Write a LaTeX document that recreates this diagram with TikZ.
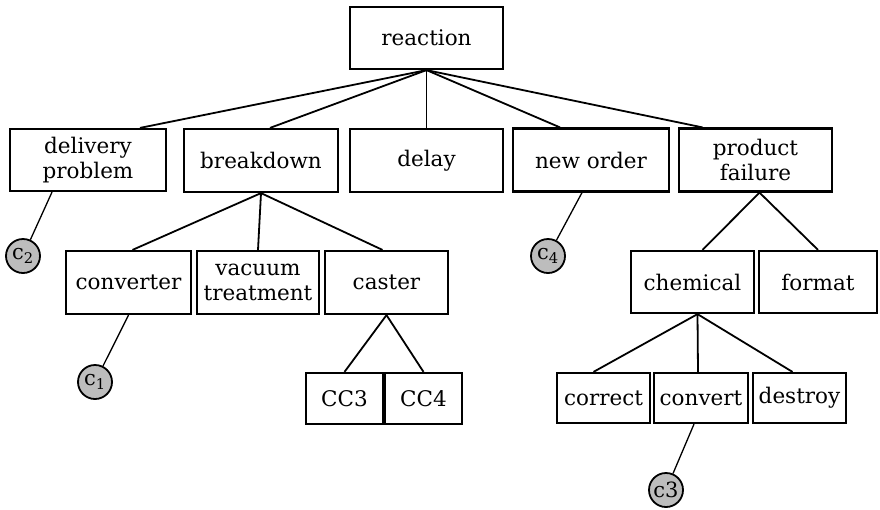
\documentclass[tikz,border=0pt]{standalone}
\usepackage{fontspec}
\setmainfont{DejaVu Serif}
\definecolor{cfill}{HTML}{BDBDBD}
\begin{document}
\begin{tikzpicture}[x=1pt,y=-1pt,
  box/.style={draw,line width=2.2pt,inner sep=0pt,align=center,font=\fontsize{21.5}{25}\selectfont},
  cnode/.style={draw,circle,line width=1.8pt,fill=cfill,minimum size=34pt,inner sep=0pt,font=\fontsize{21}{21}\selectfont},
  link/.style={line width=1.8pt},
  thin link/.style={line width=1.3pt}]
\useasboundingbox (0,0) rectangle (880,509);
\node (reaction) [box,minimum width=153pt,minimum height=62pt] at (426.5,38) {reaction};
\node (delivery) [box,minimum width=156pt,minimum height=62pt] at (88,160) {delivery\\problem};
\node (breakdown) [box,minimum width=154pt,minimum height=63pt] at (261,160.5) {breakdown};
\node (delay) [box,minimum width=153pt,minimum height=63pt] at (426.5,160.5) {delay};
\node (neworder) [box,minimum width=156pt,minimum height=63pt] at (591,160) {new order};
\node (failure) [box,minimum width=153pt,minimum height=63pt] at (755.5,160) {product\\failure};
\node (converter) [box,minimum width=125pt,minimum height=63pt] at (128.5,282.5) {converter};
\node (vacuum) [box,minimum width=122pt,minimum height=63pt] at (258,282.5) {vacuum\\treatment};
\node (caster) [box,minimum width=123pt,minimum height=63pt] at (386.5,282.5) {caster};
\node (chemical) [box,minimum width=123pt,minimum height=62pt] at (692.5,282) {chemical};
\node (format) [box,minimum width=118pt,minimum height=62pt] at (818,282) {format};
\node (cc3) [box,minimum width=77pt,minimum height=51pt] at (344.5,398.5) {CC3};
\node (cc4) [box,minimum width=77pt,minimum height=51pt] at (423.5,398.5) {CC4};
\node (correct) [box,minimum width=93pt,minimum height=50pt] at (603.5,398) {correct};
\node (convert) [box,minimum width=94pt,minimum height=50pt] at (701,398) {convert};
\node (destroy) [box,minimum width=93pt,minimum height=50pt] at (799.5,398) {destroy};
\node (c2) [cnode] at (23,256) {c\textsubscript{2}};
\node (c1) [cnode] at (95,382) {c\textsubscript{1}};
\node (c4) [cnode] at (548,256) {c\textsubscript{4}};
\node (c3) [cnode] at (666,490) {c3};
\draw [link] (reaction.south) -- ([xshift=52pt]delivery.north);
\draw [link] (reaction.south) -- ([xshift=9pt]breakdown.north);
\draw [link] (reaction.south) -- (delay.north);
\draw [link] (reaction.south) -- ([xshift=-31pt]neworder.north);
\draw [link] (reaction.south) -- ([xshift=-53pt]failure.north);
\draw [link] (breakdown.south) -- ([xshift=4pt]converter.north);
\draw [link] (breakdown.south) -- (vacuum.north);
\draw [link] (breakdown.south) -- ([xshift=-4pt]caster.north);
\draw [link] (caster.south) -- (cc3.north);
\draw [link] (caster.south) -- (cc4.north);
\draw [link] ([xshift=4pt]failure.south) -- ([xshift=10pt]chemical.north);
\draw [link] ([xshift=4pt]failure.south) -- (format.north);
\draw [link] ([xshift=5pt]chemical.south) -- ([xshift=-10pt]correct.north);
\draw [link] ([xshift=5pt]chemical.south) -- ([xshift=-3pt]convert.north);
\draw [link] ([xshift=5pt]chemical.south) -- ([xshift=-7pt]destroy.north);
\draw [thin link] ([xshift=-36pt]delivery.south) -- (c2);
\draw [thin link] (converter.south) -- (c1);
\draw [thin link] ([xshift=-9pt]neworder.south) -- (c4);
\draw [thin link] ([xshift=-7pt]convert.south) -- (c3);
\end{tikzpicture}
\end{document}
